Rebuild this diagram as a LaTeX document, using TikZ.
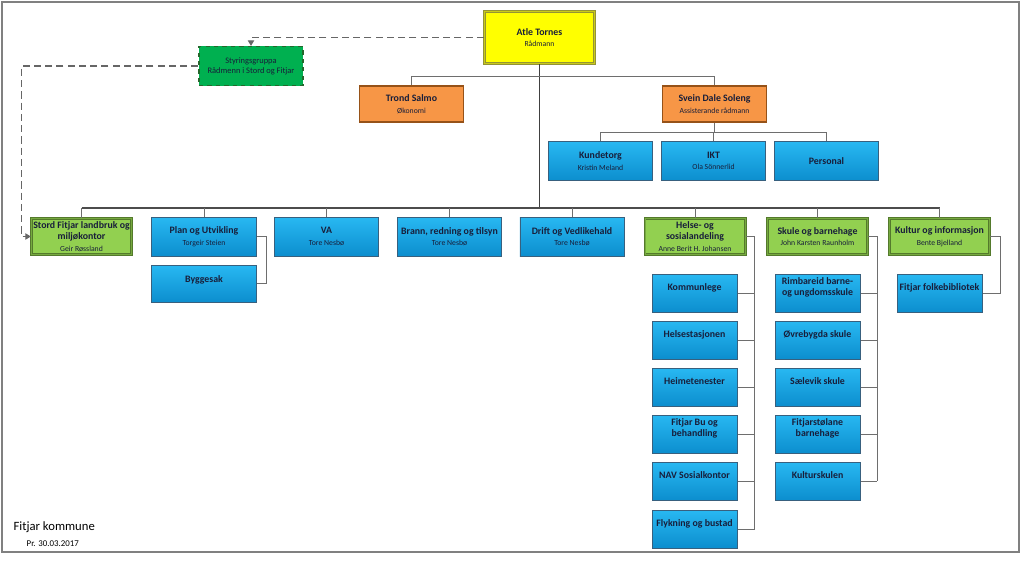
\documentclass[tikz,border=0pt]{standalone}
\usepackage{fontspec}
\setmainfont{Carlito}
\usetikzlibrary{arrows.meta}
\definecolor{inktext}{RGB}{24,30,58}
\definecolor{bluetop}{RGB}{40,184,242}
\definecolor{bluebot}{RGB}{12,142,206}
\definecolor{blueedge}{RGB}{56,96,126}
\definecolor{greenfill}{RGB}{146,208,80}
\definecolor{greenedge}{RGB}{84,122,44}
\definecolor{orangefill}{RGB}{247,150,70}
\definecolor{orangeedge}{RGB}{150,82,24}
\definecolor{yellowfill}{RGB}{255,255,0}
\definecolor{yellowedge}{RGB}{148,148,52}
\definecolor{steerfill}{RGB}{0,176,80}
\definecolor{steeredge}{RGB}{36,104,44}
\definecolor{wire}{RGB}{110,110,110}
\newcommand{\boss}[1]{{\bfseries #1}}
\newcommand{\who}[1]{{\fontsize{5.5}{6.6}\selectfont #1}}

\begin{document}
\begin{tikzpicture}[
    x=0.025cm, y=-0.025cm,
    every node/.style={font=\fontsize{7}{8.2}\selectfont, align=center, text=inktext, inner sep=1pt},
    unit/.style={draw=blueedge, line width=0.7pt, top color=bluetop, bottom color=bluebot,
                 minimum width=2.6cm, minimum height=0.975cm},
    kid/.style={unit, minimum width=2.125cm, minimum height=0.95cm, text depth=9pt},
    sector/.style={draw=greenedge, double=greenfill!55!greenedge, double distance=0.5pt, line width=0.8pt,
                   fill=greenfill, minimum width=2.5cm, minimum height=0.9cm},
    staff/.style={draw=orangeedge, line width=0.8pt, fill=orangefill, minimum width=2.6cm, minimum height=0.9cm},
    chief/.style={draw=yellowedge, double=yellowfill!50!yellowedge, double distance=0.6pt, line width=0.8pt,
                  fill=yellowfill, minimum width=2.75cm, minimum height=1.3cm},
    steerbox/.style={draw=steeredge, dashed, line width=0.8pt, fill=steerfill,
                     minimum width=2.6cm, minimum height=0.975cm, font=\fontsize{6}{7.2}\selectfont},
    link/.style={draw=wire, line width=0.6pt},
    bus line/.style={draw=black!70, line width=0.8pt},
    trunk/.style={draw=black!75, line width=1.1pt},
    steer/.style={draw=black!60, line width=0.8pt, dash pattern=on 5pt off 3pt,
                  -{Triangle[length=4pt,width=4.5pt]}}
]
% frame
\useasboundingbox (0,0) rectangle (1023,560);
\draw[gray, line width=1.4pt] (2,2) rectangle (1019,552);

% top
\node[chief] (atle) at (539.5,37.5) {\boss{Atle Tornes}\\\who{Rådmann}};
\node[steerbox] (styr) at (251,66) {Styringsgruppa\\Rådmenn i Stord og Fitjar};
\node[staff] (trond) at (411.5,104) {\boss{Trond Salmo}\\\who{Økonomi}};
\node[staff] (svein) at (714.5,104) {\boss{Svein Dale Soleng}\\\who{Assisterande rådmann}};

% stab
\node[unit] (kundetorg) at (600.5,161) {\boss{Kundetorg}\\\who{Kristin Meland}};
\node[unit] (ikt) at (713.5,161) {\boss{IKT}\\\who{Ola Sönnerlid}};
\node[unit] (personal) at (826.5,161) {\boss{Personal}};

% sectors
\node[sector] (stord) at (81.5,236.5) {\boss{Stord Fitjar landbruk og}\\\boss{miljøkontor}\\\who{Geir Røssland}};
\node[unit] (plan) at (204,236.5) {\boss{Plan og Utvikling}\\\who{Torgeir Steien}};
\node[unit] (va) at (326.5,236.5) {\boss{VA}\\\who{Tore Nesbø}};
\node[unit] (brann) at (449.5,236.5) {\boss{Brann, redning og tilsyn}\\\who{Tore Nesbø}};
\node[unit] (drift) at (572,236.5) {\boss{Drift og Vedlikehald}\\\who{Tore Nesbø}};
\node[sector] (helse) at (695,236.5) {\boss{Helse- og}\\\boss{sosialandeling}\\\who{Anne Berit H. Johansen}};
\node[sector] (skule) at (817.5,236.5) {\boss{Skule og barnehage}\\\who{John Karsten Raunholm}};
\node[sector] (kultur) at (939.5,236.5) {\boss{Kultur og informasjon}\\\who{Bente Bjelland}};

% units
\node[unit, minimum height=0.925cm, text depth=7pt] (bygg) at (204,283.5) {\boss{Byggesak}};
\node[kid] (lege) at (694.5,293) {\boss{Kommunlege}};
\node[kid] (stasjon) at (694.5,340) {\boss{Helsestasjonen}};
\node[kid] (heime) at (694.5,387) {\boss{Heimetenester}};
\node[kid] (bu) at (694.5,434) {\boss{Fitjar Bu og}\\\boss{behandling}};
\node[kid] (nav) at (694.5,481) {\boss{NAV Sosialkontor}};
\node[kid] (flykt) at (694.5,529) {\boss{Flykning og bustad}};
\node[kid] (rimb) at (817.5,293) {\boss{Rimbareid barne-}\\\boss{og ungdomsskule}};
\node[kid] (ovre) at (817.5,340) {\boss{Øvrebygda skule}};
\node[kid] (saele) at (817.5,387) {\boss{Sælevik skule}};
\node[kid] (stol) at (817.5,434) {\boss{Fitjarstølane}\\\boss{barnehage}};
\node[kid] (kskule) at (817.5,481) {\boss{Kulturskulen}};
\node[kid] (bibl) at (939.5,293) {\boss{Fitjar folkebibliotek}};

% footer
\node[anchor=west, font=\fontsize{9}{10}\selectfont, text=black] (firm) at (12,527) {Fitjar kommune};
\node[anchor=west, font=\fontsize{6.3}{7}\selectfont, text=black] (dato) at (25,544) {Pr. 30.03.2017};

% connectors
\coordinate (topbus) at (539.5,76);
\coordinate (bus) at (539.5,208);
\coordinate (stabbus) at (714.5,132);
\draw[trunk] (atle.south) -- (bus);
\draw[link] (trond.north) -- (trond.north |- topbus) -- (svein.north |- topbus) -- (svein.north);
\draw[link] (svein.south) -- (stabbus);
\draw[link] (kundetorg.north) -- (kundetorg.north |- stabbus) -- (personal.north |- stabbus) -- (personal.north);
\draw[link] (ikt.north) -- (ikt.north |- stabbus);
\draw[bus line] (stord.north |- bus) -- (kultur.north |- bus);
\foreach \n in {stord,plan,va,brann,drift,helse,skule,kultur}
  \draw[link] (\n.north) -- (\n.north |- bus);
\draw[link] (plan.east) -- ++(10,0) |- (bygg.east);
\draw[link] (helse.east) -- ++(9,0) coordinate (hb) -- (hb |- flykt.east);
\foreach \n in {lege,stasjon,heime,bu,nav,flykt}
  \draw[link] (\n.east) -- (\n.east -| hb);
\draw[link] (skule.east) -- ++(9,0) coordinate (sb) -- (sb |- kskule.east);
\foreach \n in {rimb,ovre,saele,stol,kskule}
  \draw[link] (\n.east) -- (\n.east -| sb);
\draw[link] (kultur.east) -- ++(10,0) |- (bibl.east);
\draw[steer] (atle.west) -| (styr.north);
\draw[steer] (styr.west) -- ++(-177,0) |- (stord.west);
\end{tikzpicture}
\end{document}
